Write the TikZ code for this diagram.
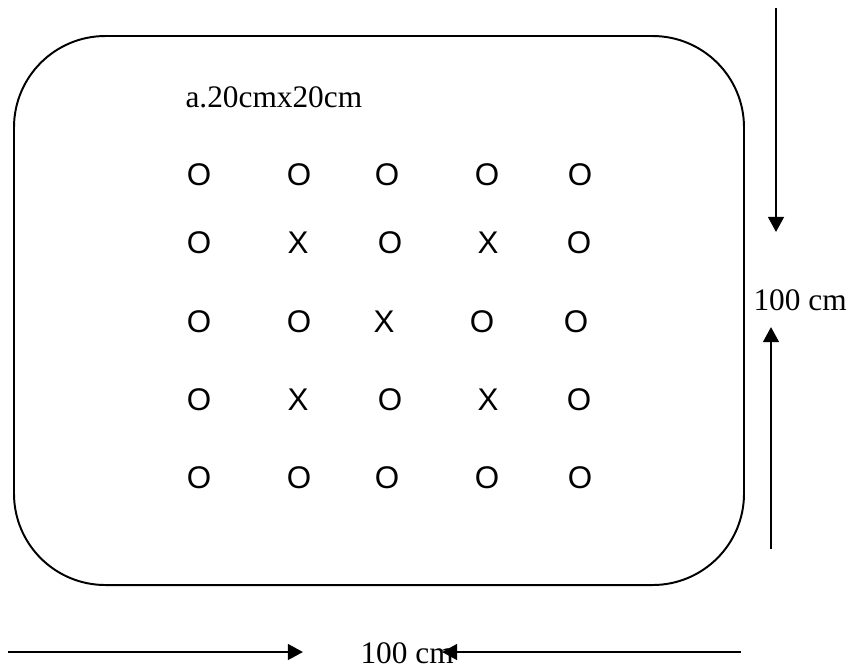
\documentclass[tikz,border=0pt]{standalone}
\usepackage{fontspec}
\setmainfont{Liberation Serif}
\newfontfamily\gridfont{Liberation Sans}
\usetikzlibrary{arrows.meta}

\begin{document}
\begin{tikzpicture}[
    x=0.383pt, y=-0.383pt,
    plot/.style={draw, line width=0.75pt, rounded corners=35pt},
    spot/.style={inner sep=0pt, font=\gridfont\fontsize{12}{14}\selectfont},
    dimlabel/.style={inner sep=0pt, font=\fontsize{12}{14}\selectfont},
    arrow/.style={-{Triangle[length=5.8pt, width=6pt]}, line width=1pt}
]
\useasboundingbox (0,0) rectangle (851,668);

% field plot
\draw[plot] (14,36) rectangle (744,585);
\node[dimlabel, anchor=base west] (title) at (185,107) {a.20cmx20cm};

% plants: O and X
\foreach \c/\x/\t in {1/199/O, 2/299/O, 3/387/O, 4/487/O, 5/580/O}
    \node[spot] (r1c\c) at (\x,175) {\t};
\foreach \c/\x/\t in {1/199/O, 2/298/X, 3/390/O, 4/488/X, 5/579/O}
    \node[spot] (r2c\c) at (\x,243) {\t};
\foreach \c/\x/\t in {1/199/O, 2/299/O, 3/384/X, 4/482/O, 5/576/O}
    \node[spot] (r3c\c) at (\x,322) {\t};
\foreach \c/\x/\t in {1/199/O, 2/298/X, 3/390/O, 4/488/X, 5/579/O}
    \node[spot] (r4c\c) at (\x,400) {\t};
\foreach \c/\x/\t in {1/199/O, 2/299/O, 3/387/O, 4/487/O, 5/580/O}
    \node[spot] (r5c\c) at (\x,478) {\t};

% dimensions
\node[dimlabel, anchor=base west] (vlabel) at (753,310) {100 cm};
\node[dimlabel, anchor=base west] (hlabel) at (360,663) {100 cm};

\coordinate (vtop) at (776,8);
\coordinate (vtoptip) at (776,232);
\coordinate (vbot) at (771,549);
\coordinate (vbottip) at (771,327);
\coordinate (hleft) at (8,652);
\coordinate (hlefttip) at (303,652);
\coordinate (hright) at (741,652);
\coordinate (hrighttip) at (442,652);

\draw[arrow] (vtop) -- (vtoptip);
\draw[arrow] (vbot) -- (vbottip);
\draw[arrow] (hleft) -- (hlefttip);
\draw[arrow] (hright) -- (hrighttip);

\end{tikzpicture}
\end{document}
